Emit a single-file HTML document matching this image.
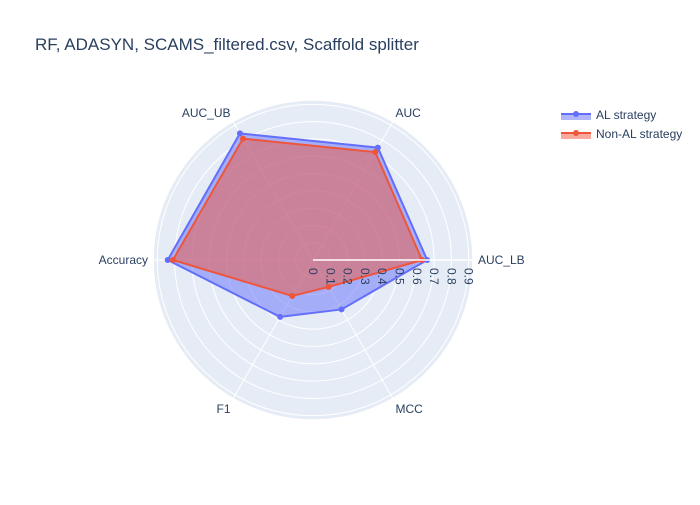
<!DOCTYPE html>
<html><head><meta charset="utf-8"><style>
body{margin:0;background:#fff;font-family:"Liberation Sans",Arial,sans-serif}
</style></head><body>
<svg id="chart" width="700" height="500" xmlns="http://www.w3.org/2000/svg" font-family="Liberation Sans, Arial, sans-serif">
<rect width="700" height="500" fill="#fff"/>
<text x="35" y="50" font-size="17" fill="#2a3f5f">RF, ADASYN, SCAMS_filtered.csv, Scaffold splitter</text>
<g id="plot"></g>
<g>
  <g>
    <rect x="561" y="114" width="30" height="6" fill="rgba(99,110,250,0.5)"/>
    <line x1="561" y1="114" x2="591" y2="114" stroke="#636efa" stroke-width="2"/>
    <circle cx="576" cy="114" r="3" fill="#636efa"/>
    <text x="596" y="119" font-size="12" fill="#2a3f5f">AL strategy</text>
  </g>
  <g>
    <rect x="561" y="133" width="30" height="6" fill="rgba(239,85,59,0.5)"/>
    <line x1="561" y1="133" x2="591" y2="133" stroke="#ef553b" stroke-width="2"/>
    <circle cx="576" cy="133" r="3" fill="#ef553b"/>
    <text x="596" y="138" font-size="12" fill="#2a3f5f">Non-AL strategy</text>
  </g>
</g>
</svg>
<script>
const categories = ["AUC_LB","AUC","AUC_UB","Accuracy","F1","MCC"];
const alValues = [0.66,0.75,0.845,0.84,0.38,0.33];
const nonAlValues = [0.63,0.72,0.81,0.81,0.24,0.18];
const radialTicks = ["0","0.1","0.2","0.3","0.4","0.5","0.6","0.7","0.8","0.9"];
const tickValues = [0,0.1,0.2,0.3,0.4,0.5,0.6,0.7,0.8,0.9];

const NS="http://www.w3.org/2000/svg";
const cx=313, cy=260, R=160, rMax=0.925;
const g=document.getElementById('plot');
function rScale(v){return v/rMax*R;}
function angle(i){return i*2*Math.PI/categories.length;}
function pt(i,v){const a=angle(i),r=rScale(v);return [cx+r*Math.cos(a),cy-r*Math.sin(a)];}
function mk(tag,attrs){const e=document.createElementNS(NS,tag);for(const k in attrs)e.setAttribute(k,attrs[k]);g.appendChild(e);return e;}

let bg=mk('circle',{cx:cx,cy:cy,r:R,fill:'#e5ecf6'});


tickValues.forEach((t,k)=>{ if(t===0)return;
  const c=mk('circle',{cx:cx,cy:cy,r:rScale(t),fill:'none',stroke:'#fff','stroke-width':1});
  
  
});
let outer=mk('circle',{cx:cx,cy:cy,r:R,fill:'none',stroke:'#fff','stroke-width':1.5});


categories.forEach((c,i)=>{
  const [x,y]=pt(i,rMax);
  const l=mk('line',{x1:cx,y1:cy,x2:x,y2:y,stroke:'#fff','stroke-width':1});
  
  
});
function series(vals,color,fill,name){
  const pts=vals.map((v,i)=>pt(i,v));
  const p=mk('polygon',{points:pts.map(q=>q.join(',')).join(' '),fill:fill,stroke:color,'stroke-width':2,'stroke-linejoin':'round'});
  
  
  pts.forEach((q,i)=>{
    const m=mk('circle',{cx:q[0],cy:q[1],r:3,fill:color});
    
    
  });
}
series(alValues,'#636efa','rgba(99,110,250,0.5)','al-strategy');
series(nonAlValues,'#ef553b','rgba(239,85,59,0.5)','non-al-strategy');
let ax=mk('line',{x1:cx,y1:cy,x2:cx+R,y2:cy,stroke:'#fff','stroke-width':1.5});


tickValues.forEach((t,k)=>{
  const x=cx+rScale(t);
  const tx=mk('text',{x:0,y:0,'font-size':12,fill:'#2a3f5f',transform:`translate(${x-4},${cy+8}) rotate(90)`});
  tx.textContent=radialTicks[k];
  
  
});
categories.forEach((c,i)=>{
  const a=angle(i);const r=R+5;
  const x=cx+r*Math.cos(a), y=cy-r*Math.sin(a);
  const cosA=Math.cos(a), sinA=Math.sin(a);
  let anchor=Math.abs(cosA)<0.01?'middle':(cosA>0?'start':'end');
  let dy= sinA>0.1?0: (sinA<-0.1?10:4);
  const tx=mk('text',{x:x,y:y+dy,'font-size':12,fill:'#2a3f5f','text-anchor':anchor});
  tx.textContent=c;
  
  
});
</script>
</body></html>
